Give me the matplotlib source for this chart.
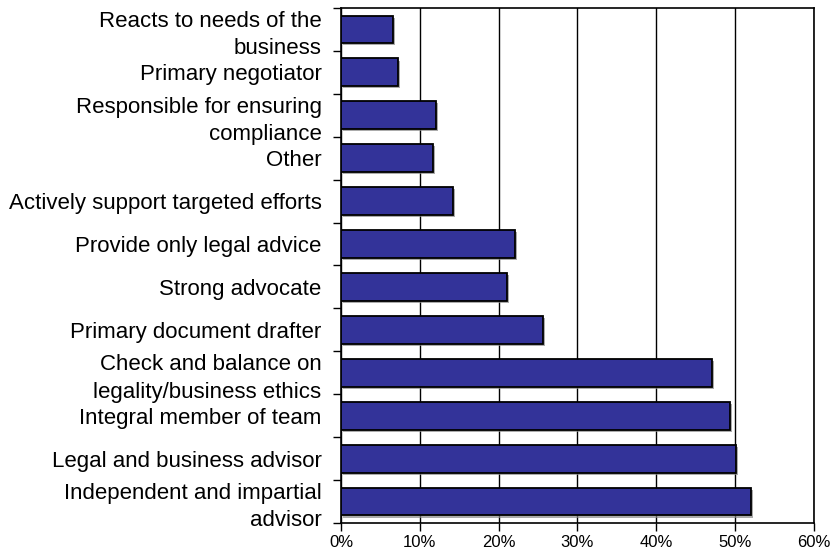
#!/usr/bin/env python3
"""horizontal bar chart of counsel roles"""
import matplotlib
matplotlib.use("Agg")
import matplotlib.pyplot as plt
import matplotlib.patheffects as pe
from matplotlib.ticker import FixedLocator, PercentFormatter

roles = [
    "Reacts to needs of the\nbusiness",
    "Primary negotiator",
    "Responsible for ensuring\ncompliance",
    "Other",
    "Actively support targeted efforts",
    "Provide only legal advice",
    "Strong advocate",
    "Primary document drafter",
    "Check and balance on\nlegality/business ethics",
    "Integral member of team",
    "Legal and business advisor",
    "Independent and impartial\nadvisor",
]
shares = [6.6, 7.2, 12.1, 11.7, 14.2, 22.1, 21.0, 25.6, 47.1, 49.3, 50.1, 52.0]
x_ticks = [0, 10, 20, 30, 40, 50, 60]

plt.rcParams["font.family"] = ["Liberation Sans", "DejaVu Sans"]

fig = plt.figure(figsize=(8.3, 5.55), dpi=100)
ax = fig.add_axes([0.4108, 0.0577, 0.5699, 0.9279])

pos = list(range(len(roles)))
bars = ax.barh(pos, shares, height=0.65, color="#333399",
               edgecolor="black", linewidth=1.3, zorder=3)
for b in bars:
    b.set_path_effects([pe.SimplePatchShadow(offset=(1.5, -1.5),
                                             shadow_rgbFace="#888888",
                                             alpha=0.7),
                        pe.Normal()])

ax.set_xlim(0, 60)
ax.set_ylim(len(roles) - 0.5, -0.5)
ax.set_xticks(x_ticks)
ax.xaxis.set_major_formatter(PercentFormatter(decimals=0))
ax.grid(axis="x", color="black", linewidth=1.0, zorder=0)

ax.set_yticks(pos)
ax.set_yticklabels(roles, fontsize=16, linespacing=1.4)
ax.yaxis.set_minor_locator(FixedLocator([p - 0.5 for p in pos] + [len(roles) - 0.5]))
ax.tick_params(axis="y", which="major", length=0, pad=14)
ax.tick_params(axis="y", which="minor", length=6, width=1, direction="out")
ax.tick_params(axis="x", length=6, width=1, direction="out", labelsize=12, pad=3)

for s in ax.spines.values():
    s.set_linewidth(1.2)
    s.set_color("black")

fig.savefig("out.png", dpi=100)
